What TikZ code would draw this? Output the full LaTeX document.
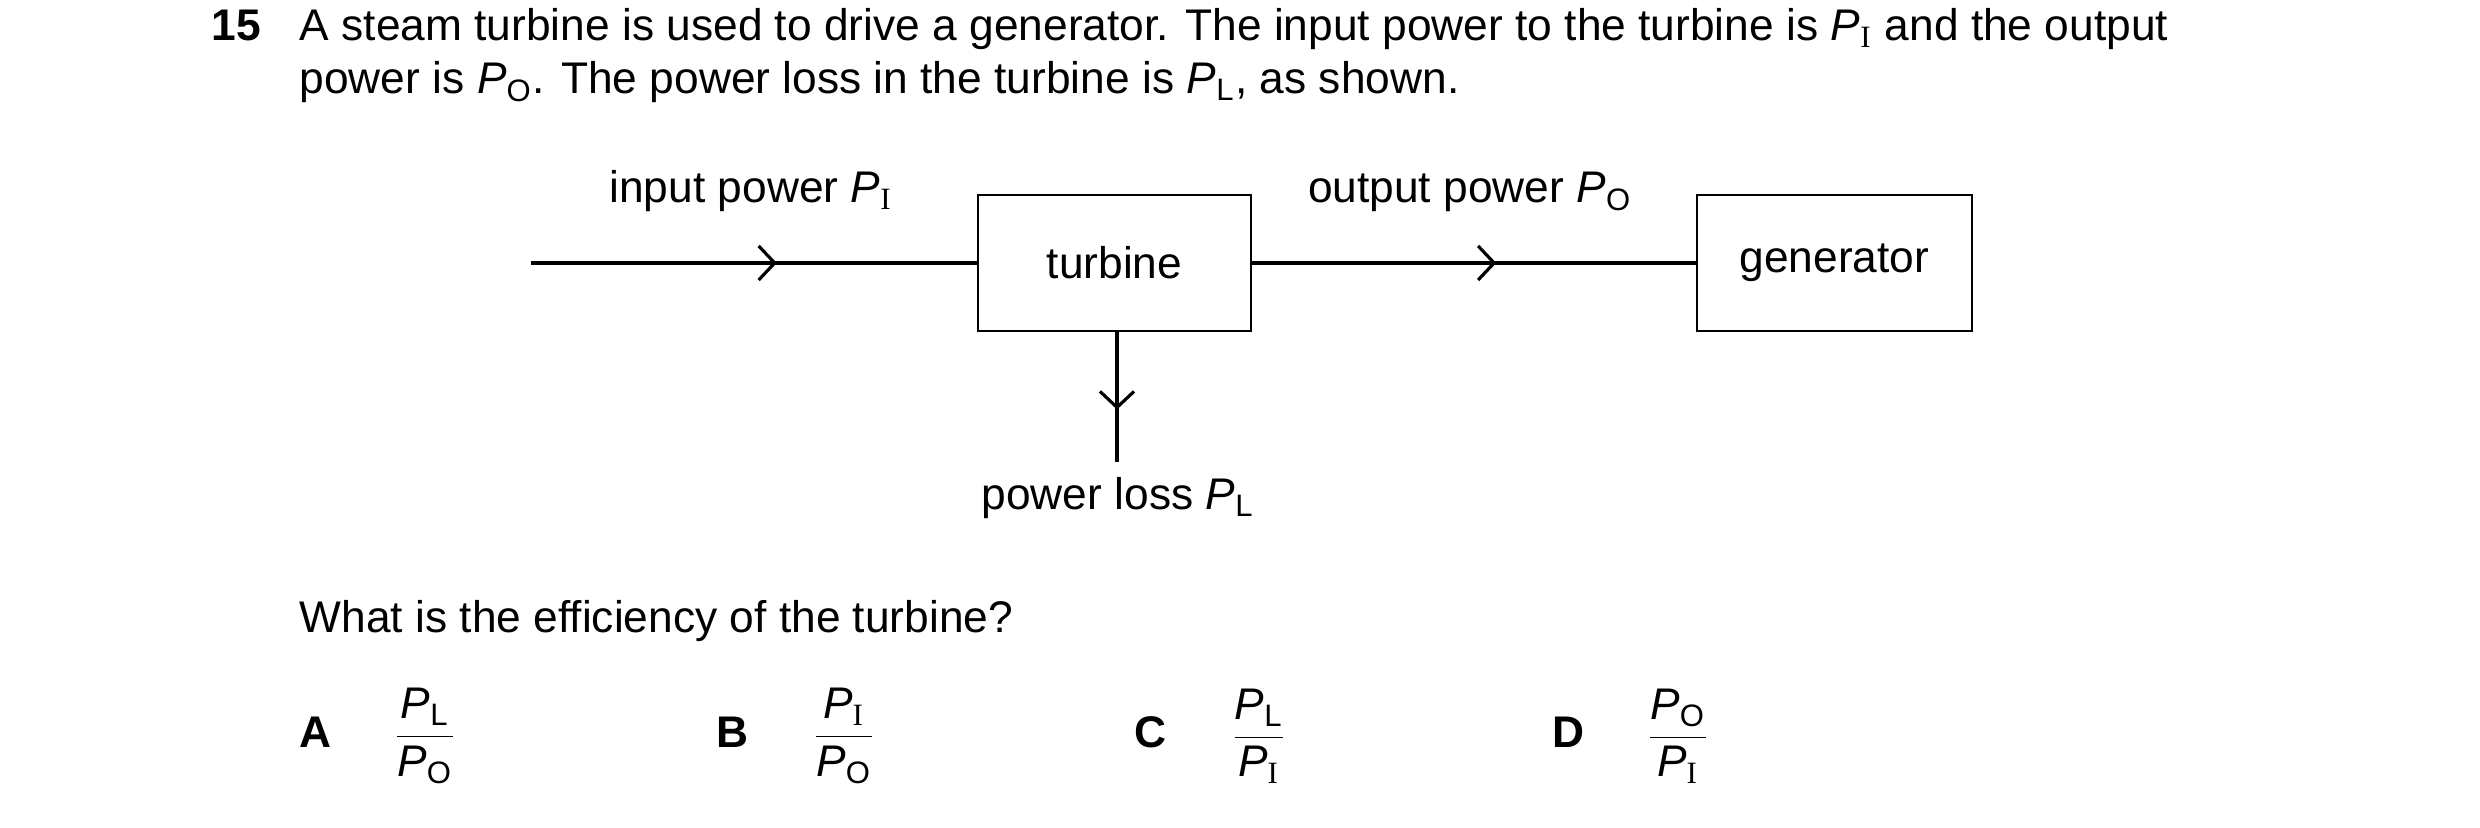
\documentclass[tikz,border=0pt]{standalone}
\usepackage{fontspec}
\setmainfont{Liberation Sans}
\newfontfamily\serfont{Liberation Serif}
\usetikzlibrary{arrows.meta,decorations.markings}
\newcommand{\Pv}[1]{\textit{P}\textsubscript{#1}}
\newcommand{\RI}{{\serfont I}}
\begin{document}
\begin{tikzpicture}[x=0.01cm,y=-0.01cm,
  txt/.style={font=\fontsize{12.6}{15}\selectfont, inner sep=0pt},
  flow/.style={line width=0.9pt, postaction={decorate}, decoration={markings,
     mark=at position #1 with {\arrow{Straight Barb[length=1.6mm,width=3.4mm,line width=0.9pt]}}}}]
\useasboundingbox (0,0) rectangle (2480,828);
\node[txt, font=\fontsize{12.6}{15}\selectfont\bfseries, anchor=base west] (num) at (211,41) {15};
\node[txt, anchor=base west] (q1) at (299,41) {A steam turbine is used to drive a generator. The input power to the turbine is \Pv{\RI} and the output};
\node[txt, anchor=base west] (q2) at (299,94) {power is \Pv{O}. The power loss in the turbine is \Pv{L}, as shown.};
\draw[line width=0.5pt] (978,195) rectangle (1251,331);
\node[txt] (turb) at (1114.5,263) {turbine};
\coordinate (tw) at (978,263); \coordinate (te) at (1251,263); \coordinate (tb) at (1117,331);
\draw[line width=0.5pt] (1697,195) rectangle (1972,331);
\node[txt] (gen) at (1834.5,263) {generator};
\coordinate (gw) at (1697,263);
\coordinate (in) at (531,263);
\coordinate (loss) at (1117,462);
\draw[flow=0.55] (in) -- (tw);
\draw[flow=0.55] (te) -- (gw);
\draw[flow=0.6] (tb) -- (loss);
\node[txt, anchor=base] (lin) at (751,203) {input power \Pv{\RI}};
\node[txt, anchor=base] (lout) at (1470,203) {output power \Pv{O}};
\node[txt, anchor=base] (lloss) at (1118,510) {power loss \Pv{L}};
\node[txt, anchor=base west] (eff) at (299,633) {What is the efficiency of the turbine?};
\foreach \L/\lx/\fx/\num/\den in {A/315/425/L/O, B/732/844/\RI/O, C/1150/1259/L/\RI, D/1568/1678/O/\RI}{
  \node[txt, font=\fontsize{12.6}{15}\selectfont\bfseries] (opt\L) at (\lx,732) {\L};
  \node[txt] (f\L) at (\fx,736) {$\displaystyle\frac{\hbox{\Pv{\num}}}{\hbox{\Pv{\den}}}$};
}
\end{tikzpicture}
\end{document}
